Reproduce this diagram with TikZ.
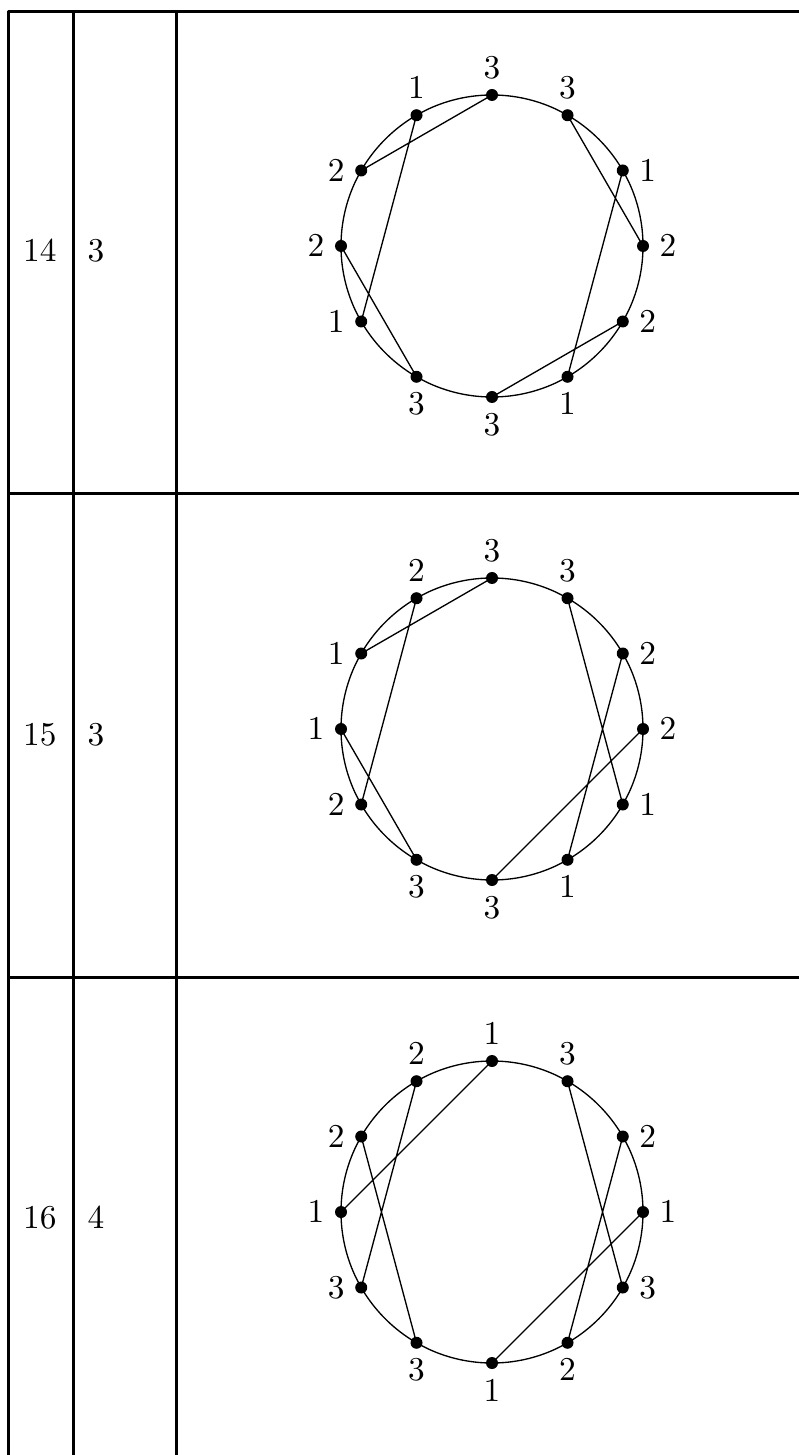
\documentclass[tikz,border=0pt]{standalone}

\tikzset{
	tabline/.style={line width=0.9pt, line cap=rect},
	chord/.style={line width=0.4pt},
	lbl/.style={inner sep=4.8pt},
	celltxt/.style={anchor=base west, inner sep=0pt},
}

\begin{document}
\begin{tikzpicture}[x=0.3pt, y=0.3pt, line join=round, line cap=round]
	\useasboundingbox (0,0) rectangle (798,-1455);
	
	% ==========================================
	% KHUNG BẢNG
	% ==========================================
	\draw[tabline] (798,-11.5) -- (8,-11.5) -- (8,-1455);
	\draw[tabline] (73,-11.5) -- (73,-1455);
	\draw[tabline] (176,-11.5) -- (176,-1455);
	\draw[tabline] (8,-494) -- (798,-494);
	\draw[tabline] (8,-977) -- (798,-977);
	
	% ==========================================
	% DÒNG 14
	% ==========================================
	\node[celltxt] (n14) at (22.5,-262) {14};
	\node[celltxt] (k14) at (87,-262) {3};
	\begin{scope}[shift={(492,-246)}]
		\coordinate (O) at (0,0);
		\foreach \i in {1,...,12} {
			\coordinate (A\i) at ({90-30*(\i-1)}:151);
		}
		\draw[chord] (O) circle (151);
		% Các dây cung
		\draw[chord] (A1)--(A11) (A12)--(A9) (A10)--(A8)
		(A2)--(A4) (A3)--(A6) (A5)--(A7);
		% Điểm và nhãn
		\foreach \i/\n/\pos in {1/3/above, 2/3/above, 3/1/right, 4/2/right, 5/2/right, 6/1/below,
			7/3/below, 8/3/below, 9/1/left, 10/2/left, 11/2/left, 12/1/above} {
			\fill (A\i) circle (6) node[lbl,\pos] (lA\i) {$\n$};
		}
	\end{scope}
	
	% ==========================================
	% DÒNG 15
	% ==========================================
	\node[celltxt] (n15) at (22.5,-745) {15};
	\node[celltxt] (k15) at (87,-745) {3};
	\begin{scope}[shift={(492,-729)}]
		\coordinate (O) at (0,0);
		\foreach \i in {1,...,12} {
			\coordinate (B\i) at ({90-30*(\i-1)}:151);
		}
		\draw[chord] (O) circle (151);
		% Các dây cung
		\draw[chord] (B1)--(B11) (B12)--(B9) (B10)--(B8)
		(B2)--(B5) (B3)--(B6) (B4)--(B7);
		% Điểm và nhãn
		\foreach \i/\n/\pos in {1/3/above, 2/3/above, 3/2/right, 4/2/right, 5/1/right, 6/1/below,
			7/3/below, 8/3/below, 9/2/left, 10/1/left, 11/1/left, 12/2/above} {
			\fill (B\i) circle (6) node[lbl,\pos] (lB\i) {$\n$};
		}
	\end{scope}
	
	% ==========================================
	% DÒNG 16
	% ==========================================
	\node[celltxt] (n16) at (22.5,-1228) {16};
	\node[celltxt] (k16) at (87,-1228) {4};
	\begin{scope}[shift={(492,-1212)}]
		\coordinate (O) at (0,0);
		\foreach \i in {1,...,12} {
			\coordinate (C\i) at ({90-30*(\i-1)}:151);
		}
		\draw[chord] (O) circle (151);
		% Các dây cung
		\draw[chord] (C1)--(C10) (C12)--(C9) (C11)--(C8)
		(C2)--(C5) (C3)--(C6) (C4)--(C7);
		% Điểm và nhãn
		\foreach \i/\n/\pos in {1/1/above, 2/3/above, 3/2/right, 4/1/right, 5/3/right, 6/2/below,
			7/1/below, 8/3/below, 9/3/left, 10/1/left, 11/2/left, 12/2/above} {
			\fill (C\i) circle (6) node[lbl,\pos] (lC\i) {$\n$};
		}
	\end{scope}
\end{tikzpicture}
\end{document}
